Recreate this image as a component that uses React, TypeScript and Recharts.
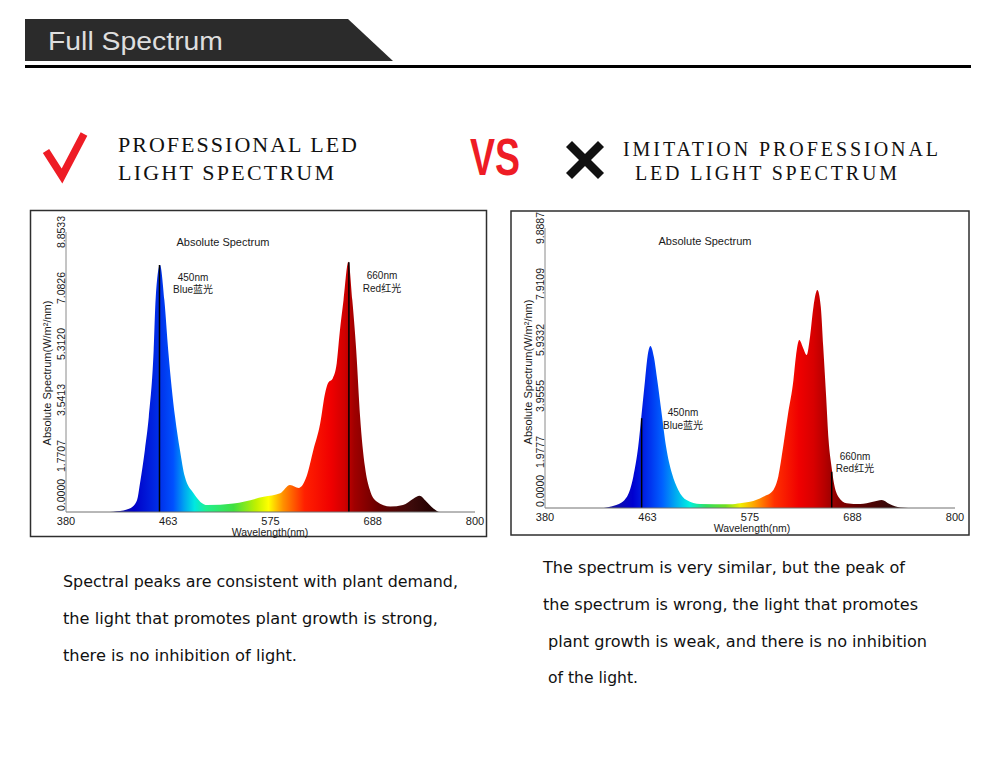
import React from "react";
import { Area, AreaChart, ReferenceLine, XAxis, YAxis } from "recharts";

// x axis: the spectrometer draws evenly spaced ticks with these labels
const X_TICKS = [380, 485, 590, 695, 800];
const X_TICK_LABELS = ["380", "463", "575", "688", "800"];

const PRO_Y_TICKS = [0, 1.7707, 3.5413, 5.312, 7.0826, 8.8533];
const IMI_Y_TICKS = [0, 1.9777, 3.9555, 5.9332, 7.9109, 9.8887];

// professional LED (left)
const PRO_NM = [
  380, 425, 432, 446, 453, 456, 461, 465, 470, 472, 476.5, 481, 485, 492, 497, 502, 511, 518, 525, 552,
  583, 600, 610, 619, 627, 634, 641, 646, 649, 654, 658, 661, 665, 670, 674, 678, 682, 687, 692, 699,
  713, 726, 737, 743, 750, 757, 764, 800,
];
const PRO_VALUE = [
  0, 0, 0.02, 0.12, 0.38, 0.91, 1.96, 3.0, 5.1, 6.7, 7.81, 6.7, 5.1, 3.0, 1.96, 1.12, 0.59, 0.32, 0.22, 0.27,
  0.48, 0.59, 0.85, 0.76, 1.12, 1.96, 2.8, 3.75, 4.07, 4.23, 4.7, 5.65, 6.7, 7.91, 6.7, 5.12, 3.01, 1.43, 0.7, 0.33,
  0.17, 0.22, 0.43, 0.51, 0.33, 0.12, 0, 0,
];
const PRO_MARKERS = [
  { nm: 476, value: 7.81 },
  { nm: 670.5, value: 7.9 },
];

// imitation LED (right)
const IMI_NM = [
  380, 436, 453, 464, 470.5, 475.5, 479, 482.5, 485, 488, 491.5, 495, 499.5, 504, 510, 516.5, 525, 539, 569.5, 580,
  590, 603.5, 614, 619, 624, 629, 634.5, 637, 640.5, 644.5, 648, 651.5, 655, 659, 662.5, 665, 668, 670.5, 673.5, 676,
  680.5, 689, 703, 716, 725, 733, 744, 760, 800,
];
const IMI_VALUE = [
  0, 0, 0.11, 0.4, 1.11, 2.17, 3.34, 4.52, 5.34, 5.72, 5.34, 4.52, 3.34, 2.17, 1.23, 0.64, 0.28, 0.14, 0.13, 0.17,
  0.22, 0.4, 0.64, 1.11, 2.17, 3.34, 4.52, 5.34, 5.93, 5.64, 5.4, 6.05, 7.11, 7.7, 7.11, 5.7, 3.93, 2.4, 1.46, 0.87,
  0.4, 0.17, 0.14, 0.22, 0.28, 0.14, 0.02, 0, 0,
];
const IMI_MARKERS = [
  { nm: 479, value: 3.17 },
  { nm: 673.7, value: 1.28 },
];

const PRO_TEXT = [
  "Spectral peaks are consistent with plant demand,",
  "the light that promotes plant growth is strong,",
  "there is no inhibition of light.",
];
const IMI_TEXT = [
  "The spectrum is very similar, but the peak of",
  "the spectrum is wrong, the light that promotes",
  "plant growth is weak, and there is no inhibition",
  "of the light.",
];

// gradient colours along the x axis
const PRO_STOPS: [number, string][] = [
  [430, "#1c1c8c"], [450, "#0000c8"], [476, "#0030e8"], [490, "#0050ff"], [502, "#00a8f0"],
  [512, "#00e8e0"], [524, "#20f090"], [552, "#40e040"], [575, "#c0f000"], [588, "#ffff00"],
  [603, "#ff9000"], [625, "#ff2000"], [652, "#f00000"], [666, "#d00000"], [676, "#a00000"],
  [700, "#6a0000"], [735, "#3c0a0a"], [760, "#200000"],
];
const IMI_STOPS: [number, string][] = [
  [436, "#1c1c8c"], [470, "#0000d0"], [488, "#0035f0"], [500, "#0060ff"], [515, "#00b0f0"],
  [528, "#00f0e0"], [545, "#30e060"], [565, "#70e020"], [580, "#f0f000"], [595, "#ffa000"],
  [615, "#ff3000"], [640, "#f00000"], [655, "#d80000"], [666, "#b80000"], [678, "#900000"],
  [700, "#600000"], [730, "#3a0808"], [760, "#200000"],
];

const SANS = '"Liberation Sans", Arial, "Noto Sans CJK SC", sans-serif';
const SERIF = '"Liberation Serif", "Times New Roman", serif';
const VERDANA = '"DejaVu Sans", Verdana, sans-serif';

const XTick = (props: any) => {
  const { x, y, index } = props;
  return (
    <text x={x} y={y + 13} textAnchor="middle" fontSize={11} fill="#1a1a1a" fontFamily={SANS}>
      {X_TICK_LABELS[index]}
    </text>
  );
};

const YTick = (props: any) => {
  const { x, y, payload } = props;
  const cx = x - 5;
  const zero = payload.value === 0;
  const ty = zero ? y - 1 : y;
  return (
    <text
      x={cx}
      y={ty}
      transform={`rotate(-90 ${cx} ${ty})`}
      textAnchor={zero ? "start" : "middle"}
      dominantBaseline="central"
      fontSize={10.5}
      fill="#1a1a1a"
      fontFamily={SANS}
    >
      {Number(payload.value).toFixed(4)}
    </text>
  );
};

interface SpectrumProps {
  id: string;
  left: number;
  top: number;
  width: number;
  height: number;
  margin: { top: number; right: number; left: number; bottom: number };
  yAxisWidth: number;
  xAxisHeight: number;
  nm: number[];
  values: number[];
  yTicks: number[];
  markers: { nm: number; value: number }[];
  stops: [number, string][];
}

function SpectrumChart({
  id, left, top, width, height, margin, yAxisWidth, xAxisHeight, nm, values, yTicks, markers, stops,
}: SpectrumProps) {
  const data = nm.map((n, i) => ({ nm: n, value: values[i] }));
  const plotLeft = margin.left + yAxisWidth;
  const plotRight = width - margin.right;
  return (
    <div style={{ position: "absolute", left, top, width, height }}>
      <AreaChart width={width} height={height} data={data} margin={margin}>
        <defs>
          <linearGradient id={id} gradientUnits="userSpaceOnUse" x1={plotLeft} y1={0} x2={plotRight} y2={0}>
            {stops.map(([w, c]) => (
              <stop key={w} offset={(w - 380) / 420} stopColor={c} />
            ))}
          </linearGradient>
        </defs>
        <XAxis
          type="number"
          dataKey="nm"
          domain={[380, 800]}
          ticks={X_TICKS}
          interval={0}
          height={xAxisHeight}
          tickSize={0}
          tickMargin={0}
          tickLine={false}
          tick={XTick}
          axisLine={{ stroke: "#707070" }}
        />
        <YAxis
          type="number"
          domain={[0, yTicks[yTicks.length - 1]]}
          ticks={yTicks}
          interval={0}
          width={yAxisWidth}
          tickSize={0}
          tickMargin={0}
          tickLine={false}
          tick={YTick}
          axisLine={{ stroke: "#8a8a8a" }}
        />
        <Area
          type="monotone"
          dataKey="value"
          stroke="none"
          fill={`url(#${id})`}
          fillOpacity={1}
          dot={false}
          activeDot={false}
          isAnimationActive={false}
        />
        {markers.map((m) => (
          <ReferenceLine
            key={m.nm}
            segment={[{ x: m.nm, y: 0 }, { x: m.nm, y: m.value }]}
            stroke="#000"
            strokeWidth={1.5}
          />
        ))}
      </AreaChart>
    </div>
  );
}

export default function App() {
  return (
    <div style={{ position: "absolute", left: 0, top: 0, width: 1000, height: 765, background: "#fff", overflow: "hidden" }}>
      <SpectrumChart
        id="proGrad"
        left={30}
        top={210}
        width={457}
        height={327}
        margin={{ top: 22, right: 12, left: 0, bottom: 0 }}
        yAxisWidth={36}
        xAxisHeight={25}
        nm={PRO_NM}
        values={PRO_VALUE}
        yTicks={PRO_Y_TICKS}
        markers={PRO_MARKERS}
        stops={PRO_STOPS}
      />
      <SpectrumChart
        id="imiGrad"
        left={511}
        top={211}
        width={458}
        height={324}
        margin={{ top: 17, right: 14, left: 0, bottom: 0 }}
        yAxisWidth={34}
        xAxisHeight={27}
        nm={IMI_NM}
        values={IMI_VALUE}
        yTicks={IMI_Y_TICKS}
        markers={IMI_MARKERS}
        stops={IMI_STOPS}
      />

      <svg width={1000} height={765} style={{ position: "absolute", left: 0, top: 0, pointerEvents: "none" }}>
        {/* header banner */}
        <polygon points="25,19 348,19 393,61 25,61" fill="#2b2b2b" />
        <rect x={25} y={65} width={946} height={3} fill="#000" />
        <text x={48} y={50} fontSize={25.5} fill="#dedede" fontFamily={SANS} textLength={175} lengthAdjust="spacingAndGlyphs">
          Full Spectrum
        </text>

        {/* headings */}
        <polyline points="46,151 62,176 84,134" fill="none" stroke="#ee1c25" strokeWidth={7.5} strokeLinejoin="miter" />
        <text x={118} y={152} fontSize={22} fill="#111" fontFamily={SERIF} textLength={239} lengthAdjust="spacing">
          PROFESSIONAL LED
        </text>
        <text x={118} y={180} fontSize={22} fill="#111" fontFamily={SERIF} textLength={216} lengthAdjust="spacing">
          LIGHT SPECTRUM
        </text>
        <text x={470} y={175} fontSize={52} fontWeight="bold" fill="#ee1c25" fontFamily={SANS} textLength={50} lengthAdjust="spacingAndGlyphs">
          VS
        </text>
        <line x1={569} y1={144} x2={601} y2={176} stroke="#111" strokeWidth={8.5} />
        <line x1={601} y1={144} x2={569} y2={176} stroke="#111" strokeWidth={8.5} />
        <text x={623} y={156} fontSize={20} fill="#111" fontFamily={SERIF} textLength={315} lengthAdjust="spacing">
          IMITATION PROFESSIONAL
        </text>
        <text x={635} y={180} fontSize={20} fill="#111" fontFamily={SERIF} textLength={262} lengthAdjust="spacing">
          LED LIGHT SPECTRUM
        </text>

        {/* chart frames */}
        <rect x={30.5} y={210.5} width={456} height={326} fill="none" stroke="#2e2e2e" strokeWidth={1.5} />
        <rect x={511} y={211} width={458} height={324} fill="none" stroke="#2e2e2e" strokeWidth={1.5} />

        {/* chart texts */}
        <g fontFamily={SANS} fill="#1a1a1a" fontSize={11} textAnchor="middle">
          <text x={223} y={246}>Absolute Spectrum</text>
          <text x={47} y={373} transform="rotate(-90 47 373)" dominantBaseline="central">Absolute Spectrum(W/m²/nm)</text>
          <text x={705} y={244.5}>Absolute Spectrum</text>
          <text x={528} y={372} transform="rotate(-90 528 372)" dominantBaseline="central">Absolute Spectrum(W/m²/nm)</text>
        </g>
        <g fontFamily={SANS} fill="#1a1a1a" fontSize={10.5} textAnchor="middle">
          <text x={270} y={536}>Wavelength(nm)</text>
          <text x={752} y={532}>Wavelength(nm)</text>
        </g>
        <g fontFamily={SANS} fill="#1a1a1a" fontSize={10} textAnchor="middle">
          <text x={193} y={281}>450nm</text>
          <text x={193} y={293}>Blue蓝光</text>
          <text x={382} y={279}>660nm</text>
          <text x={382} y={292}>Red红光</text>
          <text x={683} y={415.5}>450nm</text>
          <text x={683} y={429}>Blue蓝光</text>
          <text x={855} y={459.5}>660nm</text>
          <text x={855} y={472}>Red红光</text>
        </g>

        {/* captions */}
        <g fontFamily={VERDANA} fill="#111" fontSize={16}>
          <text x={63} y={587} textLength={395} lengthAdjust="spacingAndGlyphs">{PRO_TEXT[0]}</text>
          <text x={63} y={624} textLength={375} lengthAdjust="spacingAndGlyphs">{PRO_TEXT[1]}</text>
          <text x={63} y={661} textLength={234} lengthAdjust="spacingAndGlyphs">{PRO_TEXT[2]}</text>
          <text x={543} y={573} textLength={362} lengthAdjust="spacingAndGlyphs">{IMI_TEXT[0]}</text>
          <text x={543} y={610} textLength={375} lengthAdjust="spacingAndGlyphs">{IMI_TEXT[1]}</text>
          <text x={548} y={647} textLength={379} lengthAdjust="spacingAndGlyphs">{IMI_TEXT[2]}</text>
          <text x={548} y={683} textLength={90} lengthAdjust="spacingAndGlyphs">{IMI_TEXT[3]}</text>
        </g>
      </svg>
    </div>
  );
}
